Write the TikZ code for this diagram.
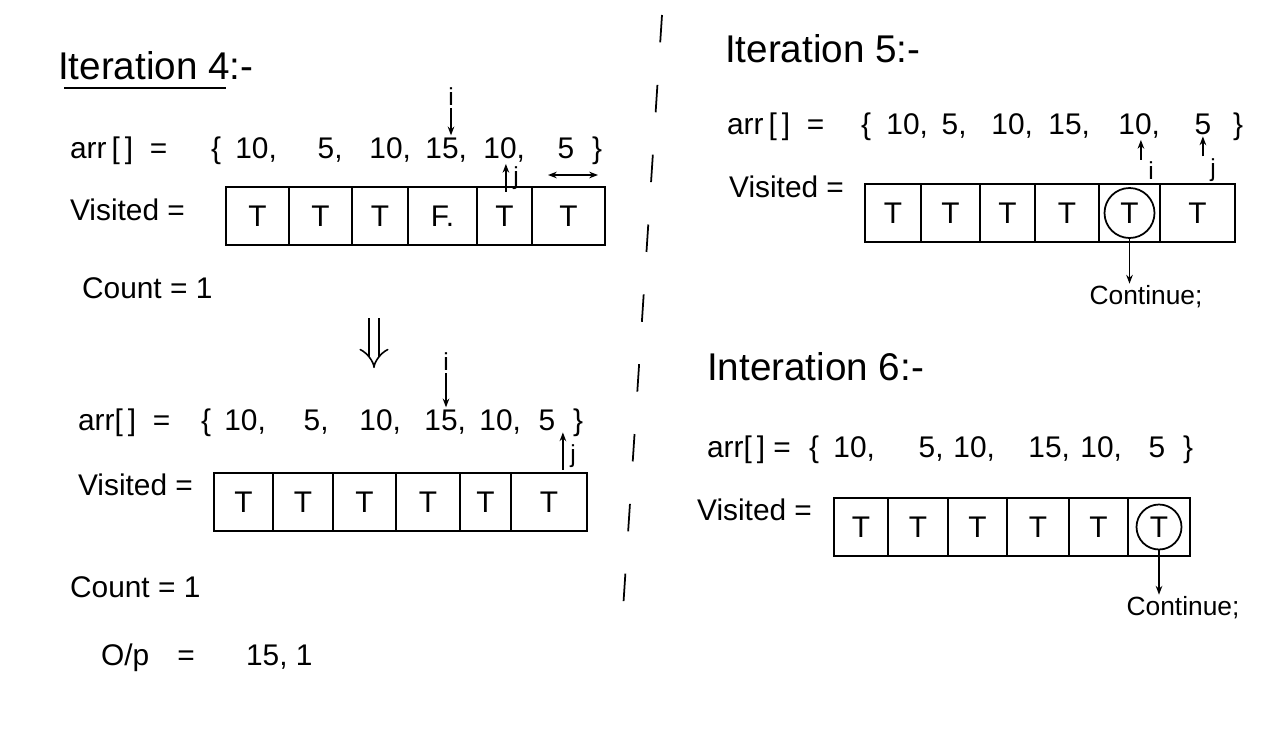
\documentclass[tikz,border=0pt]{standalone}
\usepackage{fontspec}
\setmainfont{Liberation Sans}
\usetikzlibrary{arrows.meta}

\begin{document}
\begin{tikzpicture}[
    x=0.02cm, y=-0.02cm,
    every node/.style={font=\fontsize{17}{20}\selectfont, inner sep=1pt},
    title/.style={anchor=west, font=\fontsize{22}{26}\selectfont},
    lbl/.style={anchor=base west},
    val/.style={anchor=base},
    idx/.style={font=\fontsize{14}{16}\selectfont},
    cell/.style={draw, line width=1pt, minimum height=1.15cm, inner sep=0pt},
    ring/.style={draw, line width=1pt, circle, minimum size=1cm},
    ptr/.style={-{Stealth[length=5pt]}, line width=0.9pt}
  ]
    \path[use as bounding box, fill=white] (0,0) rectangle (1280,730);

    % ---- Iteration 4
    \node[title] (t4) at (56,66) {Iteration 4:-};
    \draw[line width=1pt] ([shift={(8,6)}]t4.south west) -- ([shift={(-30,6)}]t4.south east);
    \node[lbl] (arr4) at (68,158) {arr\,[\,]\ \ =};
    \node[val] (ob4) at (216,158) {\{};
    \foreach \k/\x/\v in {1/252/10, 2/326/5, 3/386/10, 4/442/15, 5/500/10, 6/566/5}
      \node[val] (a4-\k) at (\x,158) {\v\ifnum\k<6\rlap{,}\fi};
    \node[val] (cb4) at (597,158) {\}};
    \node[idx] (i4) at (451,97) {i};
    \draw[ptr] (i4.south) -- (i4.south |- a4-4.north);
    \node[idx] (j4) at (516,178) {j};
    \draw[ptr] ([xshift=-3pt]j4.south west) -- ([xshift=-3pt]j4.south west |- a4-5.south);
    \coordinate (rng4a) at (548,175);
    \coordinate (rng4b) at (598,175);
    \draw[{Stealth[length=5pt]}-{Stealth[length=5pt]}, line width=0.9pt] (rng4a) -- (rng4b);
    \node[lbl] (vis4) at (68,220) {Visited =};
    \foreach \k/\lft/\rgt/\val in {1/226/289/T, 2/289/352/T, 3/352/408/T, 4/408/477/F., 5/477/532/T, 6/532/605/T}
      \node[cell, minimum width={(\rgt-\lft)*0.02cm}] (v4-\k) at ({(\lft+\rgt)/2},216) {\val};
    \node[lbl] (cnt4) at (80,298) {Count = 1};

    \coordinate (dn-top) at (374,318);
    \coordinate (dn-bot) at (374,368);
    \draw[double, double distance=5pt, line width=0.9pt, -{Implies}] (dn-top) -- (dn-bot);

    % ---- after iteration 4
    \node[lbl] (arrb) at (76,430) {arr[\,]\ \ =};
    \node[val] (obb) at (206,430) {\{};
    \foreach \k/\x/\v in {1/241/10, 2/312/5, 3/376/10, 4/441/15, 5/496/10, 6/547/5}
      \node[val] (b4-\k) at (\x,430) {\v\ifnum\k<6\rlap{,}\fi};
    \node[val] (cbb) at (578,430) {\}};
    \node[idx] (ib) at (446,362) {i};
    \draw[ptr] (ib.south) -- (ib.south |- b4-4.north);
    \node[idx] (jb) at (573,456) {j};
    \draw[ptr] ([xshift=-3pt]jb.south west) -- ([xshift=-3pt]jb.south west |- b4-6.south);
    \node[lbl] (visb) at (76,495) {Visited =};
    \foreach \k/\lft/\rgt in {1/214/273, 2/273/333, 3/333/396, 4/396/460, 5/460/511, 6/511/587}
      \node[cell, minimum width={(\rgt-\lft)*0.02cm}] (vb-\k) at ({(\lft+\rgt)/2},502) {T};
    \node[lbl] (cntb) at (68,597) {Count = 1};
    \node[lbl] (op) at (99,665) {O/p};
    \node[val] (opeq) at (186,665) {=};
    \node[lbl] (opval) at (244,665) {15, 1};

    % divider
    \coordinate (div-top) at (662,15);
    \coordinate (div-bot) at (622,625);
    \draw[line width=1pt, dash pattern=on 0.55cm off 0.85cm] (div-top) -- (div-bot);

    % ---- Iteration 5
    \node[title] (t5) at (723,49) {Iteration 5:-};
    \node[lbl] (arr5) at (725,134) {arr\,[\,]\ \ =};
    \node[val] (ob5) at (866,134) {\{};
    \foreach \k/\x/\v in {1/903/10, 2/950/5, 3/1008/10, 4/1065/15, 5/1135/10, 6/1203/5}
      \node[val] (a5-\k) at (\x,134) {\v\ifnum\k<6\rlap{,}\fi};
    \node[val] (cb5) at (1238,134) {\}};
    \node[idx] (i5) at (1151,171) {i};
    \draw[ptr] ([xshift=-3pt]i5.north west) -- ([xshift=-3pt]i5.north west |- a5-5.south);
    \node[idx] (j5) at (1213,170) {j};
    \draw[ptr] ([xshift=-3pt]j5.north west) -- ([xshift=-3pt]j5.north west |- a5-6.south);
    \node[lbl] (vis5) at (727,197) {Visited =};
    \foreach \k/\lft/\rgt in {1/865/921, 2/921/980, 3/980/1035, 4/1035/1099, 5/1099/1160, 6/1160/1235}
      \node[cell, minimum width={(\rgt-\lft)*0.02cm}] (v5-\k) at ({(\lft+\rgt)/2},213) {T};
    \node[ring] (c5) at (v5-5) {};
    \node[font=\fontsize{15}{18}\selectfont] (cont5) at (1146,297) {Continue;};
    \draw[ptr] (c5.south) -- (c5.south |- cont5.north);

    % ---- Iteration 6
    \node[title] (t6) at (705,367) {Interation 6:-};
    \node[lbl] (arr6) at (705,457) {arr[\,]\ =};
    \node[val] (ob6) at (814,457) {\{};
    \foreach \k/\x/\v in {1/850/10, 2/927/5, 3/970/10, 4/1045/15, 5/1097/10, 6/1157/5}
      \node[val] (a6-\k) at (\x,457) {\v\ifnum\k<6\rlap{,}\fi};
    \node[val] (cb6) at (1188,457) {\}};
    \node[lbl] (vis6) at (695,520) {Visited =};
    \foreach \k/\lft/\rgt in {1/834/888, 2/888/948, 3/948/1007, 4/1007/1069, 5/1069/1128, 6/1128/1190}
      \node[cell, minimum width={(\rgt-\lft)*0.02cm}] (v6-\k) at ({(\lft+\rgt)/2},527) {T};
    \node[ring, minimum size=0.9cm] (c6) at (v6-6) {};
    \node[font=\fontsize{15}{18}\selectfont] (cont6) at (1183,608) {Continue;};
    \draw[ptr] (c6.south) -- (c6.south |- cont6.north);
  \end{tikzpicture}
\end{document}
